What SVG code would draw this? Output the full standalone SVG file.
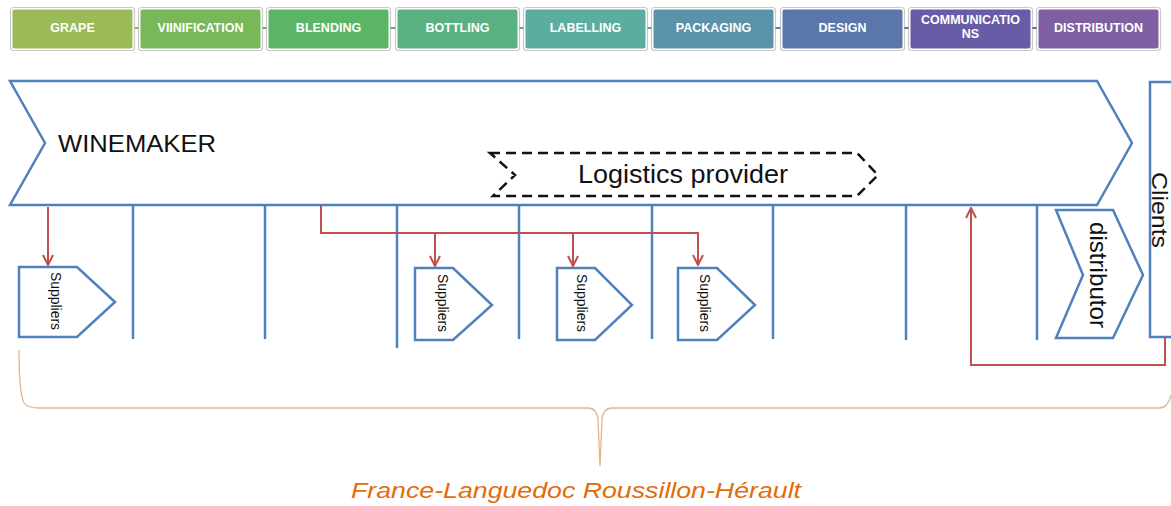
<svg xmlns="http://www.w3.org/2000/svg" width="1171" height="506" viewBox="0 0 1171 506">
<defs>
<style>
.box-o{fill:#fff;stroke:#c9c9c9;stroke-width:1.2}
.bt{font-family:"Liberation Sans",Arial,sans-serif;font-weight:bold;font-size:12.5px;fill:#fff;text-anchor:middle}
.shape{fill:#fff;stroke:#4f81bd;stroke-width:2.5;stroke-linejoin:miter}
.vline{stroke:#4f81bd;stroke-width:2.5;fill:none}
.red{stroke:#c0504d;stroke-width:2;fill:none}
.lbl{font-family:"Liberation Sans",Arial,sans-serif;fill:#111}
.dash{fill:none;stroke:#111;stroke-width:2.5;stroke-dasharray:10 6}
</style>
<marker id="ah" viewBox="0 0 12 12" refX="11" refY="6" markerWidth="12" markerHeight="12" markerUnits="userSpaceOnUse" orient="auto">
<path d="M1,1 L11,6 L1,11" fill="none" stroke="#c0504d" stroke-width="2"/>
</marker>
</defs>
<rect width="1171" height="506" fill="#fff"/>

<!-- top process boxes -->
<g id="stages">
<g id="s-grape"><rect class="box-o" x="10.5" y="7.5" width="124" height="43" rx="3"/><rect x="12.5" y="9.5" width="120" height="39" rx="2" fill="#9bbb59"/><text class="bt" x="72.5" y="32">GRAPE</text></g>
<g id="s-vinif"><rect class="box-o" x="138.5" y="7.5" width="124" height="43" rx="3"/><rect x="140.5" y="9.5" width="120" height="39" rx="2" fill="#78b85a"/><text class="bt" x="200.5" y="32">VIINIFICATION</text></g>
<g id="s-blend"><rect class="box-o" x="266.5" y="7.5" width="124" height="43" rx="3"/><rect x="268.5" y="9.5" width="120" height="39" rx="2" fill="#5bb566"/><text class="bt" x="328.5" y="32">BLENDING</text></g>
<g id="s-bottl"><rect class="box-o" x="395.5" y="7.5" width="124" height="43" rx="3"/><rect x="397.5" y="9.5" width="120" height="39" rx="2" fill="#59b080"/><text class="bt" x="457.5" y="32">BOTTLING</text></g>
<g id="s-label"><rect class="box-o" x="523.5" y="7.5" width="124" height="43" rx="3"/><rect x="525.5" y="9.5" width="120" height="39" rx="2" fill="#5aad9f"/><text class="bt" x="585.5" y="32">LABELLING</text></g>
<g id="s-pack"><rect class="box-o" x="651.5" y="7.5" width="124" height="43" rx="3"/><rect x="653.5" y="9.5" width="120" height="39" rx="2" fill="#5a93a9"/><text class="bt" x="713.5" y="32">PACKAGING</text></g>
<g id="s-design"><rect class="box-o" x="780.5" y="7.5" width="124" height="43" rx="3"/><rect x="782.5" y="9.5" width="120" height="39" rx="2" fill="#5b76a8"/><text class="bt" x="842.5" y="32">DESIGN</text></g>
<g id="s-comm"><rect class="box-o" x="908.5" y="7.5" width="124" height="43" rx="3"/><rect x="910.5" y="9.5" width="120" height="39" rx="2" fill="#695ca7"/><text class="bt" x="970.5" y="24">COMMUNICATIO</text><text class="bt" x="970.5" y="38">NS</text></g>
<g id="s-distr"><rect class="box-o" x="1036.5" y="7.5" width="124" height="43" rx="3"/><rect x="1038.5" y="9.5" width="120" height="39" rx="2" fill="#7e5fa2"/><text class="bt" x="1098.5" y="32">DISTRIBUTION</text></g>
<g id="stage-links" stroke-width="2">
<line x1="134.5" y1="28" x2="138.5" y2="28" stroke="#8aba5a"/>
<line x1="262.5" y1="28" x2="266.5" y2="28" stroke="#6ab660"/>
<line x1="390.5" y1="28" x2="395.5" y2="28" stroke="#5ab372"/>
<line x1="519.5" y1="28" x2="523.5" y2="28" stroke="#59ae90"/>
<line x1="647.5" y1="28" x2="651.5" y2="28" stroke="#5aa0a4"/>
<line x1="775.5" y1="28" x2="780.5" y2="28" stroke="#5a85a8"/>
<line x1="904.5" y1="28" x2="908.5" y2="28" stroke="#6269a8"/>
<line x1="1032.5" y1="28" x2="1036.5" y2="28" stroke="#745da5"/>
</g>
</g>

<!-- winemaker chevron -->
<g id="winemaker">
<path class="shape" d="M10,81 L1097,81 L1132,143 L1097,205 L10,205 L45,143 Z"/>
<text class="lbl" x="58" y="152" font-size="24" textLength="158" lengthAdjust="spacingAndGlyphs">WINEMAKER</text>
</g>

<!-- logistics provider -->
<g id="logistics">
<path class="dash" d="M490,153 L857,153 L878,175 L857,196 L493,196 L515,175 Z"/>
<text class="lbl" x="683" y="183" font-size="25" text-anchor="middle" textLength="210" lengthAdjust="spacingAndGlyphs">Logistics provider</text>
</g>

<!-- clients -->
<g id="clients">
<rect class="shape" x="1150" y="82" width="40" height="255"/>
<text class="lbl" font-size="22" transform="translate(1152,172) rotate(90)" textLength="76" lengthAdjust="spacingAndGlyphs">Clients</text>
</g>

<!-- distributor -->
<g id="distributor">
<path class="shape" d="M1056,210 L1113,210 L1143,275 L1113,338 L1056,338 L1083,275 Z"/>
<text class="lbl" font-size="24" transform="translate(1090,222) rotate(90)" textLength="106" lengthAdjust="spacingAndGlyphs">distributor</text>
</g>

<!-- suppliers -->
<g id="suppliers-1">
<path class="shape" d="M19,267 L77,267 L115,302 L77,337 L19,337 Z"/>
<text class="lbl" font-size="14" transform="translate(51,272) rotate(90)" textLength="58" lengthAdjust="spacingAndGlyphs">Suppliers</text>
</g>
<g id="suppliers-2">
<path class="shape" d="M415,268 L453,268 L492,305 L453,340 L415,340 Z"/>
<text class="lbl" font-size="14" transform="translate(438,274) rotate(90)" textLength="58" lengthAdjust="spacingAndGlyphs">Suppliers</text>
</g>
<g id="suppliers-3">
<path class="shape" d="M557,268 L595,268 L632,305 L595,340 L557,340 Z"/>
<text class="lbl" font-size="14" transform="translate(577,274) rotate(90)" textLength="58" lengthAdjust="spacingAndGlyphs">Suppliers</text>
</g>
<g id="suppliers-4">
<path class="shape" d="M678,268 L717,268 L755,305 L717,340 L678,340 Z"/>
<text class="lbl" font-size="14" transform="translate(700,274) rotate(90)" textLength="58" lengthAdjust="spacingAndGlyphs">Suppliers</text>
</g>

<!-- region brace -->
<g id="region">
<path d="M19,350 C19,375 20,395 24,403 Q27,408 40,408 L588,408 Q597,408 598,420 L600,466 L602,420 Q603,408 612,408 L1160,408 Q1168,408 1171,395" fill="none" stroke="#e6b48c" stroke-width="1.3"/>
<text x="576" y="498" font-family="'Liberation Sans',Arial,sans-serif" font-style="italic" font-size="22" fill="#e36c0a" text-anchor="middle" textLength="450" lengthAdjust="spacingAndGlyphs">France-Languedoc Roussillon-Hérault</text>
</g>

<!-- connectors -->
<g id="connectors">
<line class="vline" x1="133" y1="205" x2="133" y2="339"/>
<line class="vline" x1="265" y1="205" x2="265" y2="339"/>
<line class="vline" x1="397" y1="205" x2="397" y2="348"/>
<line class="vline" x1="519" y1="205" x2="519" y2="339"/>
<line class="vline" x1="652" y1="205" x2="652" y2="339"/>
<line class="vline" x1="773" y1="205" x2="773" y2="339"/>
<line class="vline" x1="906" y1="205" x2="906" y2="340"/>
<line class="vline" x1="1037" y1="205" x2="1037" y2="340"/>
<line class="red" x1="48" y1="207" x2="48" y2="265" marker-end="url(#ah)"/>
<path class="red" d="M321,206 L321,233 L698,233 L698,265" marker-end="url(#ah)"/>
<line class="red" x1="435" y1="233" x2="435" y2="266" marker-end="url(#ah)"/>
<line class="red" x1="573" y1="233" x2="573" y2="266" marker-end="url(#ah)"/>
<path class="red" d="M1165,338 L1165,365 L971,365 L971,208" marker-end="url(#ah)"/>
</g>
</svg>
